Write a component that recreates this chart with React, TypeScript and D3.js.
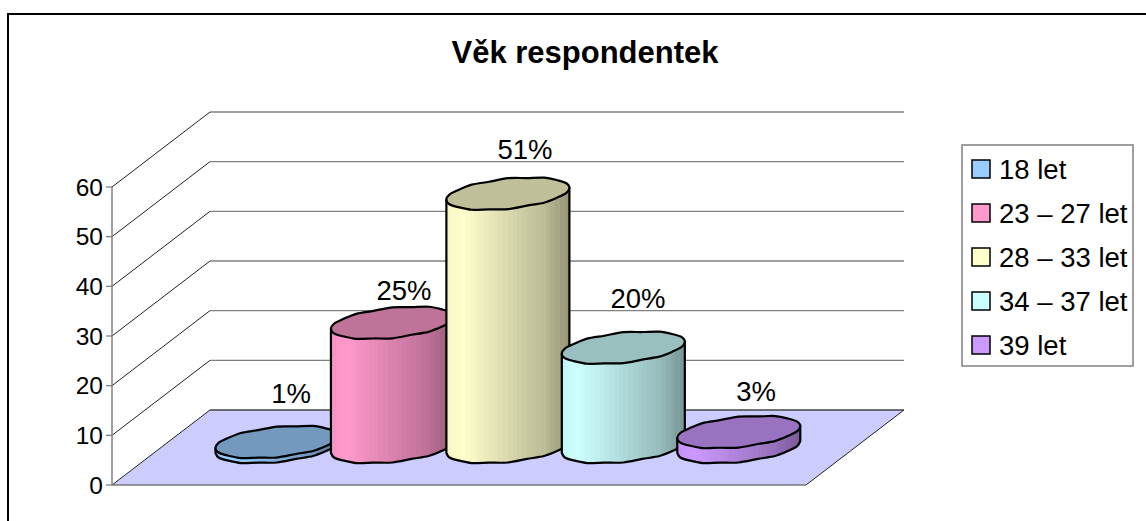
import React from "react";
import * as d3 from "d3";

const title = "Věk respondentek";
const categories = ["18 let", "23 – 27 let", "28 – 33 let", "34 – 37 let", "39 let"];
const values = [1, 25, 51, 20, 3];
const labels = ["1%", "25%", "51%", "20%", "3%"];
const colors = ["#99CCFF", "#FF99CC", "#FFFFCC", "#CCFFFF", "#CC99FF"];
const ticks = [0, 10, 20, 30, 40, 50, 60];

const font = "'Liberation Sans', Arial, sans-serif";
const W = 1146, H = 521;
const dx = 98, dy = -75;
const x0 = 112, x1 = 806;
const y = d3.scaleLinear().domain([0, 60]).range([485, 187]);
const xBand = d3.scaleBand<number>().domain(d3.range(5)).range([216, 802]).padding(0);
const rx = 61.5, ry = 15, tilt = 6;
const baseY = 447;

// tilted ellipse outline with the faint facet waviness of the original
function px(cx: number, cy: number, t: number, r = ry) {
  return [cx + rx * Math.cos(t), cy + r * Math.sin(t) - tilt * Math.cos(t)] as [number, number];
}
function ring(cx: number, cy: number, n = 20) {
  return d3.range(n).map((i) => {
    const wob = i % 2 ? 0.5 : -0.5;
    return px(cx, cy, (i / n) * Math.PI * 2, ry + wob);
  });
}
const closedSmooth = d3.line().curve(d3.curveCardinalClosed.tension(0.2));
const open = d3.line().curve(d3.curveCardinal.tension(0.2));

function body(cx: number, topY: number, botY: number) {
  const n = 10;
  const lower = d3.range(n + 1).map((i) => px(cx, botY, (i / n) * Math.PI, ry + (i % 2 ? 0.5 : -0.5)));
  return `M${cx + rx},${topY - tilt}L` + (open(lower) as string).slice(1) + `L${cx - rx},${topY + tilt}Z`;
}

const bands = d3.range(26);
function shade(c: string, f: number) {
  const r = d3.rgb(c);
  return d3.rgb(r.r * f, r.g * f, r.b * f).formatHex();
}
const shadeAt = d3.scaleLinear().domain([0, 0.12, 0.5, 0.8, 1]).range([0.97, 1, 0.85, 0.74, 0.6]);

export default function App() {
  const pitch = (xBand(4)! - xBand(0)!) / 4;
  return (
    <svg width={W} height={H} style={{ position: "absolute", left: 0, top: 0 }} fontFamily={font}>
      <defs>
        {colors.map((c, i) => (
          <linearGradient key={i} id={`g${i}`} x1="0" x2="1" y1="0" y2="0">
            {bands.flatMap((b) => {
              const f = shade(c, shadeAt(b / (bands.length - 1)));
              return [
                <stop key={`${b}a`} offset={b / bands.length} stopColor={f} />,
                <stop key={`${b}b`} offset={(b + 1) / bands.length} stopColor={f} />,
              ];
            })}
          </linearGradient>
        ))}
      </defs>
      <rect x={8} y={14} width={W} height={H} fill="#fff" stroke="#000" strokeWidth={2} />
      <text x={585} y={63} textAnchor="middle" fontSize={31} fontWeight="bold" fill="#000">{title}</text>

      <polygon points={`${x0},${y(0)} ${x0 + dx},${y(0) + dy} ${x1 + dx},${y(0) + dy} ${x1},${y(0)}`} fill="#CCCCFF" />
      {ticks.map((t) => (
        <g key={t}>
          <line x1={x0 + dx} x2={x1 + dx} y1={y(t) + dy} y2={y(t) + dy} stroke={t === 0 ? "#444" : "#808080"} strokeWidth={1.3} />
          <line x1={x0} x2={x0 + dx} y1={y(t)} y2={y(t) + dy} stroke="#222" strokeWidth={1} />
          <line x1={x0 - 6} x2={x0} y1={y(t)} y2={y(t)} stroke="#808080" strokeWidth={1.3} />
          <text x={x0 - 9} y={y(t) + 8.5} textAnchor="end" fontSize={24.5} fill="#000">{t}</text>
        </g>
      ))}
      <line x1={x1} x2={x1 + dx} y1={y(0)} y2={y(0) + dy} stroke="#222" strokeWidth={1} />
      <line x1={x0} x2={x0} y1={y(0)} y2={y(60)} stroke="#808080" strokeWidth={1.5} />
      <line x1={x0} x2={x1} y1={y(0)} y2={y(0)} stroke="#777" strokeWidth={1.5} />

      {values.map((v, i) => {
        const cx = 277 + pitch * i * 0.985;
        const topY = baseY - (y(0) - y(v));
        return (
          <g key={i} stroke="#000" strokeWidth={2.2} strokeLinejoin="round">
            <path d={body(cx, topY, baseY)} fill={`url(#g${i})`} />
            <path d={closedSmooth(ring(cx, topY)) as string} fill={shade(colors[i], 0.75)} />
          </g>
        );
      })}
      {values.map((v, i) => {
        const lx = [291, 404, 525, 638, 756][i];
        const ly = [403, 300, 159, 308, 401][i];
        return <text key={i} x={lx} y={ly} textAnchor="middle" fontSize={27.5} fill="#000">{labels[i]}</text>;
      })}

      <rect x={962} y={145} width={171} height={221} fill="#fff" stroke="#808080" strokeWidth={1.5} />
      {categories.map((c, i) => {
        const ly = 169 + i * 44;
        return (
          <g key={c}>
            <rect x={972} y={ly - 9} width={18} height={18} fill={colors[i]} stroke="#000" strokeWidth={1.5} />
            <text x={999} y={ly + 9.5} fontSize={27.5} fill="#000">{c}</text>
          </g>
        );
      })}
    </svg>
  );
}
